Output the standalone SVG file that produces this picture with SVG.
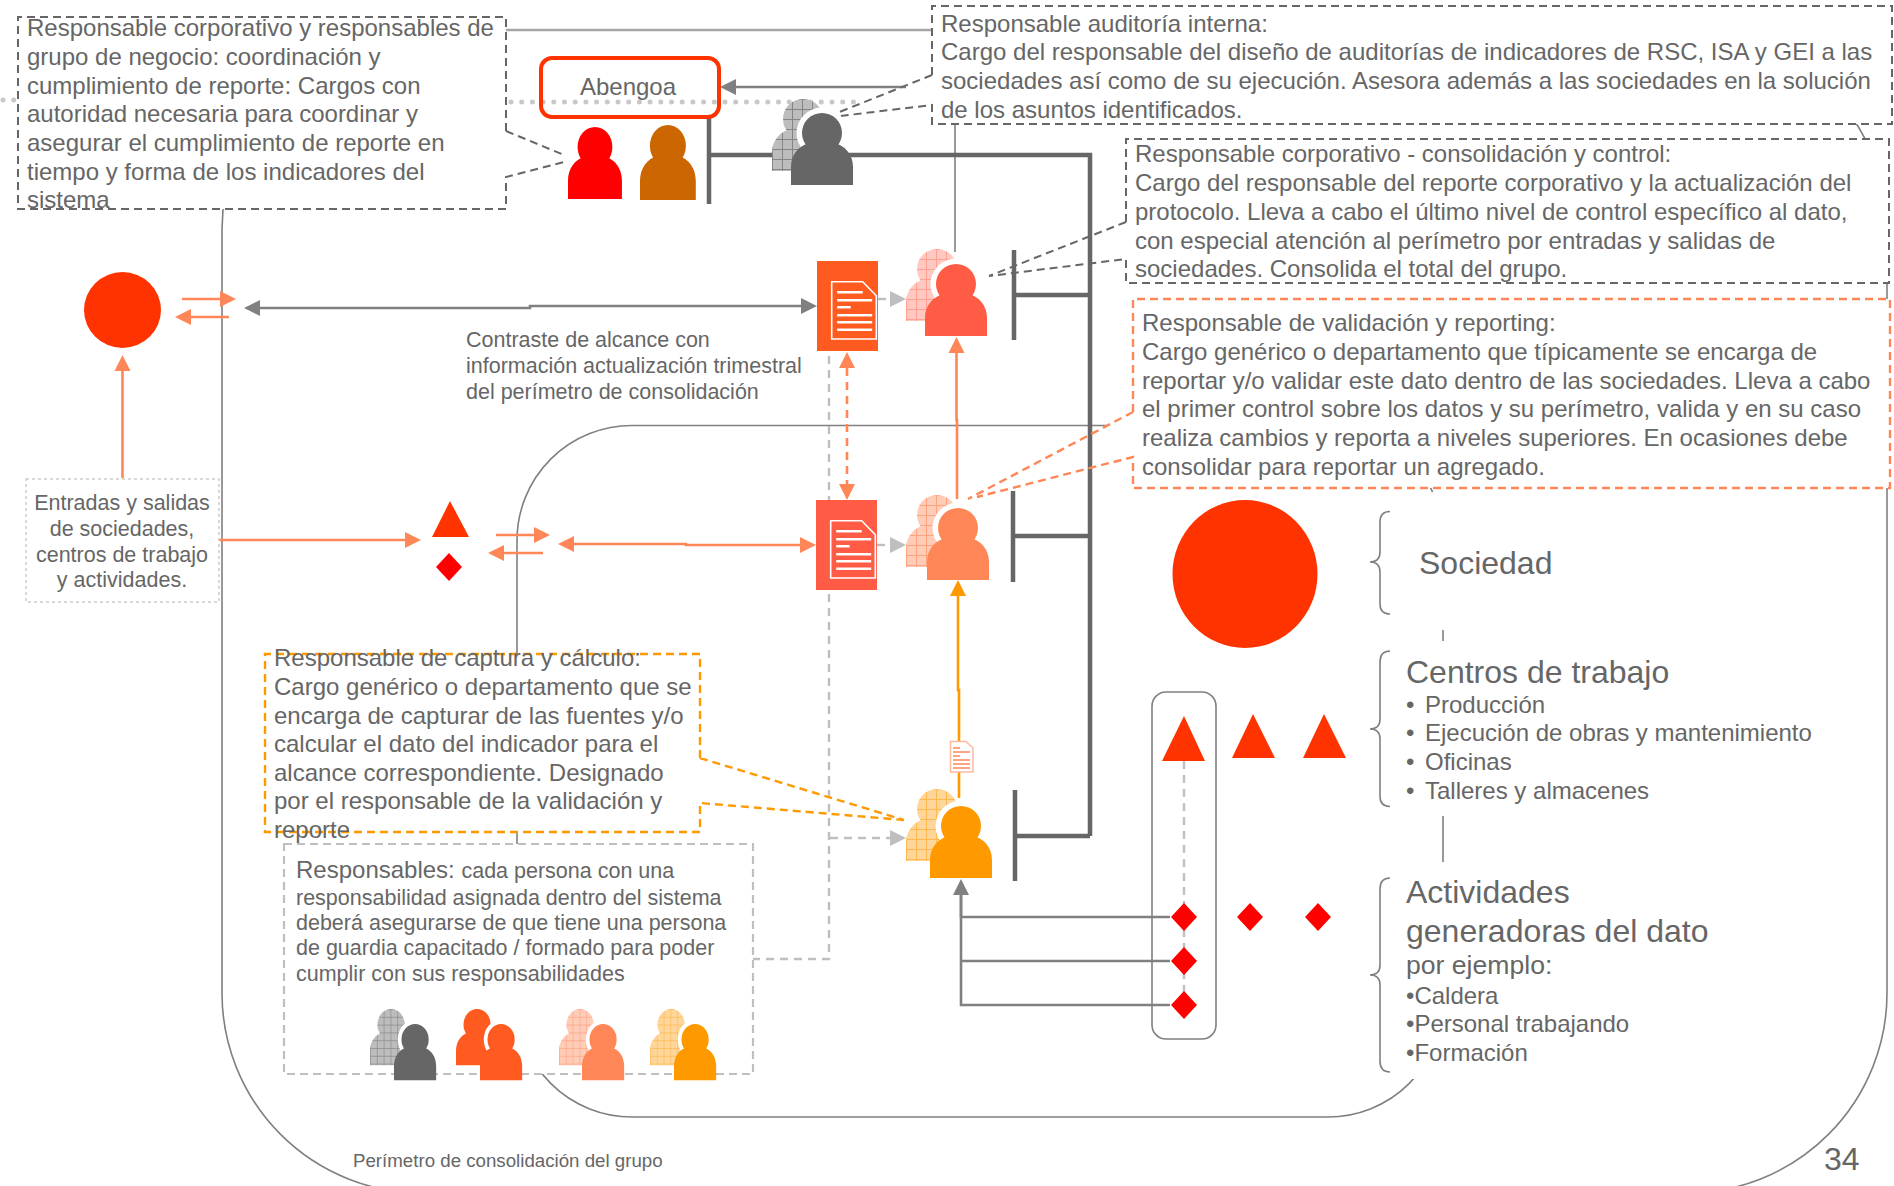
<svg xmlns="http://www.w3.org/2000/svg" width="1894" height="1186" viewBox="0 0 1894 1186">
<style>
text{font-family:"Liberation Sans",Arial,sans-serif;fill:#666666;font-size:24px}
.s21{font-size:21.5px}.s19{font-size:18.7px}.s32{font-size:32px}.s26{font-size:26.6px}
.c{text-anchor:middle}
.thin{fill:none;stroke:#808080;stroke-width:1.6}
.top{fill:none;stroke:#a6a6a6;stroke-width:2.5}
.bar{fill:none;stroke:#666666;stroke-width:4.5}
.ag{fill:none;stroke:#808080;stroke-width:2.6}
.ac{fill:none;stroke:#FF8757;stroke-width:2.6}
.ao{fill:none;stroke:#FF9900;stroke-width:2.6}
.al{fill:none;stroke:#bfbfbf;stroke-width:2.4;stroke-dasharray:8 6}
.dc{stroke-dasharray:8 6}
.box{fill:#ffffff;stroke:none}
.dg{fill:none;stroke:#666666;stroke-width:2;stroke-dasharray:8 5}
.dr{fill:none;stroke:#FF8757;stroke-width:2.4;stroke-dasharray:8 5}
.dy{fill:none;stroke:#FF9900;stroke-width:2.4;stroke-dasharray:8 5}
.dl{fill:none;stroke:#bfbfbf;stroke-width:2.2;stroke-dasharray:8 5}
.dot{fill:none;stroke:#c8c8c8;stroke-width:5;stroke-linecap:round;stroke-dasharray:0 10.7}
.tri{fill:#FF3300}.dia{fill:#FF0000}
.pl{stroke:#ffffff;stroke-width:2.4;fill:none}
.halo{fill:#ffffff}
.fG{fill:#666666}.fR{fill:#FF5B45}.fC{fill:#FF8757}.fO{fill:#FF9900}.fS{fill:#FF5A1F}
.bG{fill:url(#hG)}.bR{fill:url(#hR)}.bC{fill:url(#hC)}.bO{fill:url(#hO)}
</style>
<defs>
<pattern id="hG" width="10" height="10" patternUnits="userSpaceOnUse"><rect width="10" height="10" fill="#bdbdbd"/><path d="M0 .5H10M.5 0V10" stroke="#858585" stroke-width="1"/></pattern>
<pattern id="hR" width="10" height="10" patternUnits="userSpaceOnUse"><rect width="10" height="10" fill="#FFC9C1"/><path d="M0 .5H10M.5 0V10" stroke="#FF9F92" stroke-width="1"/></pattern>
<pattern id="hC" width="10" height="10" patternUnits="userSpaceOnUse"><rect width="10" height="10" fill="#FFCCB8"/><path d="M0 .5H10M.5 0V10" stroke="#FFA27E" stroke-width="1"/></pattern>
<pattern id="hO" width="10" height="10" patternUnits="userSpaceOnUse"><rect width="10" height="10" fill="#FFD699"/><path d="M0 .5H10M.5 0V10" stroke="#FFB84D" stroke-width="1"/></pattern>
<marker id="mg" markerUnits="userSpaceOnUse" markerWidth="17" markerHeight="18" refX="0" refY="9" orient="auto-start-reverse"><path d="M0 1L16 9L0 17Z" fill="#808080"/></marker>
<marker id="mc" markerUnits="userSpaceOnUse" markerWidth="17" markerHeight="18" refX="0" refY="9" orient="auto-start-reverse"><path d="M0 1L16 9L0 17Z" fill="#FF8757"/></marker>
<marker id="mo" markerUnits="userSpaceOnUse" markerWidth="17" markerHeight="18" refX="0" refY="9" orient="auto-start-reverse"><path d="M0 1L16 9L0 17Z" fill="#FF9900"/></marker>
<marker id="ml" markerUnits="userSpaceOnUse" markerWidth="17" markerHeight="18" refX="0" refY="9" orient="auto-start-reverse"><path d="M0 1L16 9L0 17Z" fill="#bfbfbf"/></marker>
<path id="pp" d="M0 72V54C0 41 8 33 19 29.5H43C54 33 62 41 62 54V72ZM11 20a20 20 0 1 1 40 0a20 20 0 1 1-40 0Z"/>
<circle id="ph" cx="31" cy="20" r="25.5"/>
<g id="doc"><path class="pl" style="stroke-width:1.6" d="M0 0H31L44.6 14V57.3H0Z"/><path class="pl" d="M5.5 10.5H31M5.5 18.5H40.5M5.5 25.5H19M5.5 33.5H40.5M5.5 40.5H40.5M5.5 48H40.5"/></g>
</defs>
<rect width="1894" height="1186" fill="#ffffff"/>

<g id="connectors">
<rect class="thin" x="222" y="30" width="1665" height="1163" rx="200"/>
<path class="top" d="M506 30H932"/>
<path class="thin" d="M1107 425.500H632A115 115 0 0 0 517 540.500V1002A115 115 0 0 0 632 1117H1328A115 115 0 0 0 1443 1002V540A115 115 0 0 0 1410 459"/>
<path class="dot" d="M3 100H14M511 102H860"/>
<path class="thin" d="M955 124V252"/>
<path class="bar" d="M709 117V204M709 155H1090V836M1014 250V340M1014 295H1090M1013 491V582M1013 536H1090M1015 790V881M1015 836H1090"/>
<path class="ag" marker-end="url(#mg)" d="M906 87H736"/>
<path class="ag" marker-start="url(#mg)" marker-end="url(#mg)" d="M260 308H530V306H801"/>
<path class="ac" marker-end="url(#mc)" d="M182 299H220"/>
<path class="ac" marker-end="url(#mc)" d="M229 317H191"/>
<path class="ac" marker-end="url(#mc)" d="M122.500 478V371"/>
<path class="ac" marker-end="url(#mc)" d="M219 540H405"/>
<path class="ac" marker-end="url(#mc)" d="M496 535H534"/>
<path class="ac" marker-end="url(#mc)" d="M543 553H504"/>
<path class="ac" marker-start="url(#mc)" marker-end="url(#mc)" d="M574 544H686V545H800"/>
<path class="al" d="M829 356V959H753"/>
<path class="al" marker-end="url(#ml)" d="M830 838H890"/>
<path class="al" marker-end="url(#ml)" d="M878 299H890"/>
<path class="al" marker-end="url(#ml)" d="M877 545H890"/>
<path class="ac dc" marker-start="url(#mc)" marker-end="url(#mc)" d="M847 368V484"/>
<path class="ac" marker-end="url(#mc)" d="M957 499V420H956.500V353"/>
<path class="ao" marker-end="url(#mo)" d="M959 798V690H958V596"/>
<path class="ag" marker-end="url(#mg)" d="M1170 917H961V895"/>
<path class="ag" d="M1170 961H961M1170 1005H961V895"/>
<path class="al" d="M1184 761V1005"/>
</g>

<g id="box-corporativo">
<rect class="box" x="18" y="17" width="488" height="192"/>
<path class="dg" d="M506 131V17H18V209H506V177L564 162M506 131L564 155"/>
<text x="27" y="36">Responsable corporativo y responsables de</text>
<text x="27" y="65">grupo de negocio: coordinación y</text>
<text x="27" y="94">cumplimiento de reporte: Cargos con</text>
<text x="27" y="122">autoridad necesaria para coordinar y</text>
<text x="27" y="151">asegurar el cumplimiento de reporte en</text>
<text x="27" y="180">tiempo y forma de los indicadores del</text>
<text x="27" y="208">sistema</text>
</g>

<g id="abengoa">
<rect x="541" y="58" width="178" height="59" rx="11" fill="none" stroke="#FF3300" stroke-width="4"/>
<text class="c" x="628" y="95">Abengoa</text>
</g>
<g id="personas-corporativo">
<use href="#pp" fill="#FF0000" transform="translate(568 127) scale(.87 1)"/>
<use href="#pp" fill="#CC6600" transform="translate(640 125) scale(.9 1.04)"/>
</g>

<g id="box-auditoria">
<rect class="box" x="932" y="6" width="960" height="118"/>
<path class="dg" d="M932 75V6H1892V124H932V105L840 116M932 75L837 113"/>
<text x="941" y="32">Responsable auditoría interna:</text>
<text x="941" y="60">Cargo del responsable del diseño de auditorías de indicadores de RSC, ISA y GEI a las</text>
<text x="941" y="89">sociedades así como de su ejecución. Asesora además a las sociedades en la solución</text>
<text x="941" y="118">de los asuntos identificados.</text>
</g>
<g id="persona-auditoria">
<use href="#pp" class="bG" transform="translate(772 99)"/>
<use href="#ph" class="halo" transform="translate(791 113)"/>
<use href="#pp" class="fG" transform="translate(791 113)"/>
</g>

<g id="box-consolidacion">
<rect class="box" x="1126" y="139" width="763" height="144"/>
<path class="dg" d="M1126 222V139H1889V283H1126V259L989 276M1126 222L989 276"/>
<text x="1135" y="162">Responsable corporativo - consolidación y control:</text>
<text x="1135" y="191">Cargo del responsable del reporte corporativo y la actualización del</text>
<text x="1135" y="220">protocolo. Lleva a cabo el último nivel de control específico al dato,</text>
<text x="1135" y="249">con especial atención al perímetro por entradas y salidas de</text>
<text x="1135" y="277">sociedades. Consolida el total del grupo.</text>
</g>
<g id="persona-consolidacion">
<use href="#pp" class="bR" transform="translate(906 249)"/>
<use href="#ph" class="halo" transform="translate(925 264)"/>
<use href="#pp" class="fR" transform="translate(925 264)"/>
</g>

<g id="box-validacion">
<rect class="box" x="1133" y="299" width="757" height="189"/>
<path class="dr" d="M1133 412V299H1890V488H1133V457L977 497M1133 412L968 499"/>
<text x="1142" y="331">Responsable de validación y reporting:</text>
<text x="1142" y="360">Cargo genérico o departamento que típicamente se encarga de</text>
<text x="1142" y="389">reportar y/o validar este dato dentro de las sociedades. Lleva a cabo</text>
<text x="1142" y="417">el primer control sobre los datos y su perímetro, valida y en su caso</text>
<text x="1142" y="446">realiza cambios y reporta a niveles superiores. En ocasiones debe</text>
<text x="1142" y="475">consolidar para reportar un agregado.</text>
</g>
<g id="persona-validacion">
<use href="#pp" class="bC" transform="translate(906 495)"/>
<use href="#ph" class="halo" transform="translate(927 508)"/>
<use href="#pp" class="fC" transform="translate(927 508)"/>
</g>

<g id="doc-corporativo">
<rect x="817" y="261" width="61" height="90" fill="#FF5A1F"/>
<use href="#doc" transform="translate(831.700 281.700)"/>
</g>
<g id="doc-validacion">
<rect x="816" y="500" width="61" height="90" fill="#FF5B45"/>
<use href="#doc" transform="translate(830.700 520.700)"/>
</g>
<g id="doc-captura">
<path d="M950.500 741.500H966L973 748V772H950.500Z" fill="#ffffff" stroke="#FFB9A0" stroke-width="1.500"/>
<path d="M953 748H960M953 752H970M953 756H960M953 760H970M953 764H970M953 768H970" stroke="#FF8757" stroke-width="1.300" fill="none"/>
</g>

<g id="sociedad-origen"><ellipse cx="122.500" cy="310" rx="38.500" ry="38" fill="#FF3300"/></g>
<g id="entradas-salidas">
<rect x="26" y="479" width="193" height="123" fill="#ffffff" stroke="#cccccc" stroke-width="1.500" stroke-dasharray="3 3"/>
<text class="s21 c" x="122" y="510">Entradas y salidas</text>
<text class="s21 c" x="122" y="536">de sociedades,</text>
<text class="s21 c" x="122" y="562">centros de trabajo</text>
<text class="s21 c" x="122" y="587">y actividades.</text>
</g>
<g id="contraste">
<text class="s21" x="466" y="347">Contraste de alcance con</text>
<text class="s21" x="466" y="373">información actualización trimestral</text>
<text class="s21" x="466" y="399">del perímetro de consolidación</text>
</g>
<g id="centro-actividad">
<path class="tri" d="M450 501L469 537H432Z"/>
<path class="dia" d="M449 553L462 567L449 581L436 567Z"/>
</g>

<g id="box-captura">
<rect class="box" x="265" y="654" width="435" height="178"/>
<path class="dy" d="M700 758V654H265V832H700V803L904 820M700 758L904 820"/>
<text x="274" y="666">Responsable de captura y cálculo:</text>
<text x="274" y="695">Cargo genérico o departamento que se</text>
<text x="274" y="724">encarga de capturar de las fuentes y/o</text>
<text x="274" y="752">calcular el dato del indicador para el</text>
<text x="274" y="781">alcance correspondiente. Designado</text>
<text x="274" y="809">por el responsable de la validación y</text>
<text x="274" y="838">reporte</text>
</g>
<g id="persona-captura">
<use href="#pp" class="bO" transform="translate(906 789)"/>
<use href="#ph" class="halo" transform="translate(930 806)"/>
<use href="#pp" class="fO" transform="translate(930 806)"/>
</g>

<g id="box-responsables">
<rect class="box" x="284" y="844" width="469" height="230"/>
<rect class="dl" x="284" y="844" width="469" height="230"/>
<text x="296" y="878">Responsables: <tspan class="s21">cada persona con una</tspan></text>
<text class="s21" x="296" y="905">responsabilidad asignada dentro del sistema</text>
<text class="s21" x="296" y="930">deberá asegurarse de que tiene una persona</text>
<text class="s21" x="296" y="955">de guardia capacitado / formado para poder</text>
<text class="s21" x="296" y="981">cumplir con sus responsabilidades</text>
<use href="#pp" class="bG" transform="translate(370 1009) scale(.68 .78)"/>
<use href="#ph" class="halo" transform="translate(394 1024) scale(.68 .78)"/>
<use href="#pp" class="fG" transform="translate(394 1024) scale(.68 .78)"/>
<use href="#pp" class="fS" transform="translate(456 1009) scale(.68 .78)"/>
<use href="#ph" class="halo" transform="translate(480 1024) scale(.68 .78)"/>
<use href="#pp" class="fS" transform="translate(480 1024) scale(.68 .78)"/>
<use href="#pp" class="bC" transform="translate(559 1009) scale(.68 .78)"/>
<use href="#ph" class="halo" transform="translate(582 1024) scale(.68 .78)"/>
<use href="#pp" class="fC" transform="translate(582 1024) scale(.68 .78)"/>
<use href="#pp" class="bO" transform="translate(650 1009) scale(.68 .78)"/>
<use href="#ph" class="halo" transform="translate(674 1024) scale(.68 .78)"/>
<use href="#pp" class="fO" transform="translate(674 1024) scale(.68 .78)"/>
</g>

<g id="agrupacion-centros">
<rect class="thin" x="1152" y="692" width="64" height="347" rx="14"/>
<path class="tri" d="M1184 716L1205 761H1162Z"/>
<path class="tri" d="M1253 714L1275 758H1232Z"/>
<path class="tri" d="M1324 714L1346 758H1303Z"/>
<path class="dia" d="M1184 903L1197 917L1184 931L1171 917Z"/>
<path class="dia" d="M1184 947L1197 961L1184 975L1171 961Z"/>
<path class="dia" d="M1184 991L1197 1005L1184 1019L1171 1005Z"/>
<path class="dia" d="M1250 903L1263 917L1250 931L1237 917Z"/>
<path class="dia" d="M1318 903L1331 917L1318 931L1305 917Z"/>
</g>

<g id="leyenda-sociedad">
<rect class="box" x="1372" y="492" width="488" height="138"/>
<ellipse cx="1245" cy="574" rx="72.500" ry="74" fill="#FF3300"/>
<path class="thin" d="M1390 511.500C1383 511.500 1380 515 1380 522V552C1380 558 1377 562 1370 562C1377 562 1380 566 1380 572V604C1380 611 1383 614 1390 614"/>
<text class="s32" x="1419" y="574">Sociedad</text>
</g>
<g id="leyenda-centros">
<rect class="box" x="1372" y="641" width="488" height="175"/>
<path class="thin" d="M1390 651C1383 651 1380 655 1380 662V719C1380 725 1377 729 1370 729C1377 729 1380 733 1380 739V796C1380 803 1383 806.500 1390 806.500"/>
<text class="s32" x="1406" y="683">Centros de trabajo</text>
<text x="1406" y="713">•</text><text x="1425" y="713">Producción</text>
<text x="1406" y="741">•</text><text x="1425" y="741">Ejecución de obras y mantenimiento</text>
<text x="1406" y="770">•</text><text x="1425" y="770">Oficinas</text>
<text x="1406" y="799">•</text><text x="1425" y="799">Talleres y almacenes</text>
</g>
<g id="leyenda-actividades">
<rect class="box" x="1372" y="862" width="488" height="217"/>
<path class="thin" d="M1390 878C1383 878 1380 882 1380 889V965C1380 971 1377 975 1370 975C1377 975 1380 979 1380 985V1061C1380 1068 1383 1072 1390 1072"/>
<text class="s32" x="1406" y="903">Actividades</text>
<text class="s32" x="1406" y="942">generadoras del dato</text>
<text class="s26" x="1406" y="974">por ejemplo:</text>
<text x="1406" y="1004">•Caldera</text>
<text x="1406" y="1032">•Personal trabajando</text>
<text x="1406" y="1061">•Formación</text>
</g>
<g id="perimetro"><text class="s19" x="353" y="1167">Perímetro de consolidación del grupo</text></g>
<g id="pagina"><text class="s32" x="1824" y="1170">34</text></g>
</svg>
